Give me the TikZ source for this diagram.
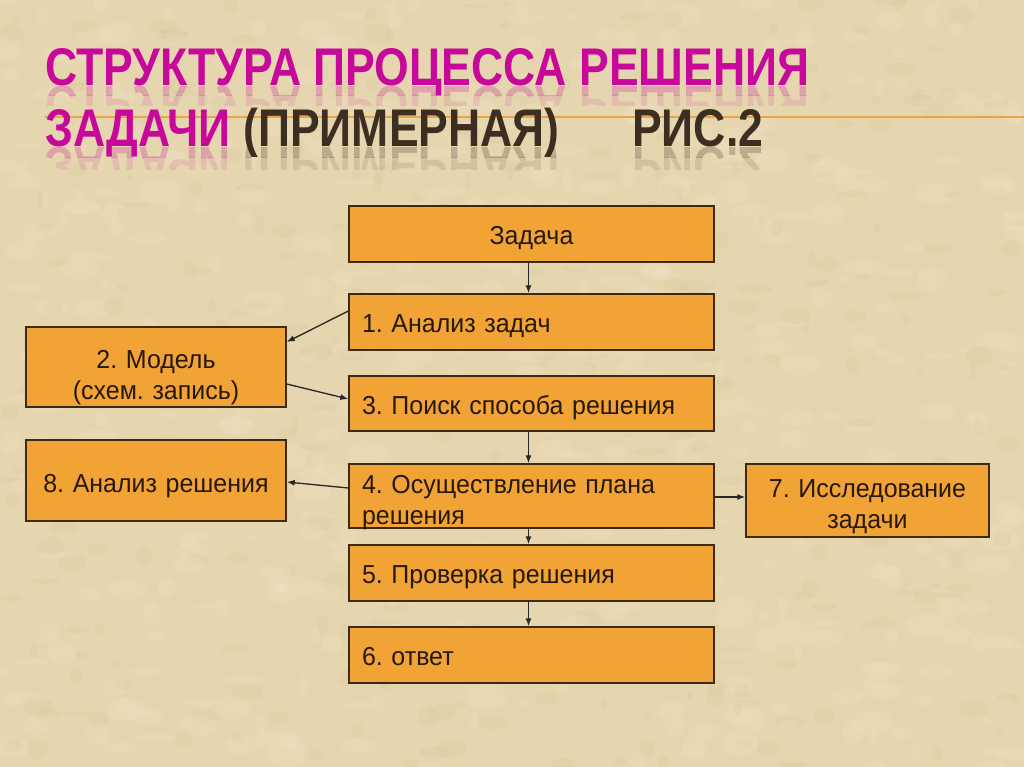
\documentclass[tikz,border=0pt]{standalone}
\usepackage{fontspec}
\setmainfont{Liberation Sans}
\newfontfamily\boxfont[FakeStretch=0.96]{Liberation Sans}
\newfontfamily\titlefont[FakeStretch=0.84]{Liberation Sans}
\usetikzlibrary{arrows.meta}
\definecolor{bg}{HTML}{E6D6AF}
\definecolor{bglight}{HTML}{F2E7CB}
\definecolor{bgdark}{HTML}{CDB88C}
\definecolor{boxfill}{HTML}{F1A336}
\definecolor{boxline}{HTML}{3D2A12}
\definecolor{txt}{HTML}{26180B}
\definecolor{mag}{HTML}{C8089A}
\definecolor{brn}{HTML}{3D2E22}
\definecolor{rulec}{HTML}{E8A546}
\frenchspacing
\begin{document}
\begin{tikzpicture}[x=1pt,y=-1pt,
  stepbox/.style={draw=boxline, line width=1.4pt, fill=boxfill, inner xsep=13pt, inner ysep=0pt,
    font=\boxfont\fontsize{26}{31}\selectfont, text=txt, anchor=center, text height=26pt, text depth=5pt},
  conn/.style={draw=black!85, line width=1.3pt, -{Latex[length=8pt,width=6pt]}},
  ttl/.style={anchor=base west, inner sep=0pt, font=\titlefont\bfseries\fontsize{53}{60}\selectfont}]
% background
\fill[bg] (0,0) rectangle (1024,767);
\useasboundingbox (0,0) rectangle (1024,767);
\pgfmathsetseed{11}
\foreach \i in {1,...,500}{
  \pgfmathsetmacro\px{rnd*1024}
  \pgfmathsetmacro\py{rnd*767}
  \pgfmathsetmacro\ra{4+rnd*18}
  \pgfmathsetmacro\rb{3+rnd*10}
  \fill[bglight, opacity=0.2] (\px,\py) ellipse ({\ra pt} and {\rb pt});
}
\foreach \i in {1,...,350}{
  \pgfmathsetmacro\px{rnd*1024}
  \pgfmathsetmacro\py{rnd*767}
  \pgfmathsetmacro\ra{3+rnd*14}
  \pgfmathsetmacro\rb{2+rnd*8}
  \fill[bgdark, opacity=0.12] (\px,\py) ellipse ({\ra pt} and {\rb pt});
}
% orange rule
\coordinate (ruleA) at (45,117);
\coordinate (ruleB) at (1024,117);
\draw[rulec, line width=2.5pt] (ruleA) -- (ruleB);
% title reflections (fading)
\begin{scope}
\clip (0,87) rectangle (1024,96);
\node[ttl, text=mag, opacity=0.25] (r1) at (45,87) {\scalebox{1}[-1]{СТРУКТУРА ПРОЦЕССА РЕШЕНИЯ}};
\end{scope}
\begin{scope}
\clip (0,96) rectangle (1024,106);
\node[ttl, text=mag, opacity=0.12] (r1b) at (45,87) {\scalebox{1}[-1]{СТРУКТУРА ПРОЦЕССА РЕШЕНИЯ}};
\end{scope}
\begin{scope}
\clip (0,148) rectangle (1024,158);
\node[ttl, text=mag, opacity=0.25] (r2) at (45,148) {\scalebox{1}[-1]{ЗАДАЧИ}};
\node[ttl, text=brn, opacity=0.25] (r3) at (r2.base east) {\scalebox{1}[-1]{\ (ПРИМЕРНАЯ)}};
\node[ttl, text=brn, opacity=0.25] (r4) at (632,148) {\scalebox{1}[-1]{РИС.2}};
\end{scope}
\begin{scope}
\clip (0,158) rectangle (1024,170);
\node[ttl, text=mag, opacity=0.12] (r2b) at (45,148) {\scalebox{1}[-1]{ЗАДАЧИ}};
\node[ttl, text=brn, opacity=0.12] (r3b) at (r2b.base east) {\scalebox{1}[-1]{\ (ПРИМЕРНАЯ)}};
\node[ttl, text=brn, opacity=0.12] (r4b) at (632,148) {\scalebox{1}[-1]{РИС.2}};
\end{scope}
% title
\node[ttl, text=mag] (t1) at (45,86) {СТРУКТУРА ПРОЦЕССА РЕШЕНИЯ};
\node[ttl, text=mag] (t2) at (45,147) {ЗАДАЧИ};
\node[ttl, text=brn] (t3) at (t2.base east) {\ (ПРИМЕРНАЯ)};
\node[ttl, text=brn] (t4) at (632,147) {РИС.2};
% boxes
\node[stepbox, text width=339pt, minimum height=56pt, align=center] (z) at (531.5,234) {Задача};
\node[stepbox, text width=339pt, minimum height=56pt, align=left] (a1) at (531.5,322) {1. Анализ задач};
\node[stepbox, text width=234pt, minimum height=80pt, align=center, text height=39pt, text depth=36pt] (m2) at (156,367) {2. Модель\\(схем. запись)};
\node[stepbox, text width=339pt, minimum height=55pt, align=left] (a3) at (531.5,403.5) {3. Поиск способа решения};
\node[stepbox, text width=234pt, minimum height=81pt, align=center, text height=28pt] (a8) at (156,480.5) {8. Анализ решения};
\node[stepbox, text width=339pt, minimum height=64pt, align=left, text height=29pt, text depth=34pt] (a4) at (531.5,496) {4. Осуществление плана\\решения};
\node[stepbox, text width=217pt, minimum height=73pt, align=center, text height=30pt, text depth=36pt] (a7) at (867.5,500.5) {7. Исследование\\задачи};
\node[stepbox, text width=339pt, minimum height=56pt, align=left] (a5) at (531.5,573) {5. Проверка решения};
\node[stepbox, text width=339pt, minimum height=56pt, align=left] (a6) at (531.5,655) {6. ответ};
% connectors
\draw[conn] ([xshift=-3pt]z.south) -- ([xshift=-3pt]a1.north);
\draw[conn] ([yshift=11pt]a1.west) -- ([yshift=25pt]m2.east);
\draw[conn] ([yshift=-17pt]m2.east) -- ([yshift=4.5pt]a3.west);
\draw[conn] ([xshift=-3pt]a3.south) -- ([xshift=-3pt]a4.north);
\draw[conn] ([yshift=8pt]a4.west) -- ([yshift=-1.5pt]a8.east);
\draw[conn] ([yshift=-1pt]a4.east) -- ([yshift=-1pt]a4.east -| a7.west);
\draw[conn] ([xshift=-3pt]a4.south) -- ([xshift=-3pt]a5.north);
\draw[conn] ([xshift=-3pt]a5.south) -- ([xshift=-3pt]a6.north);
\end{tikzpicture}
\end{document}
